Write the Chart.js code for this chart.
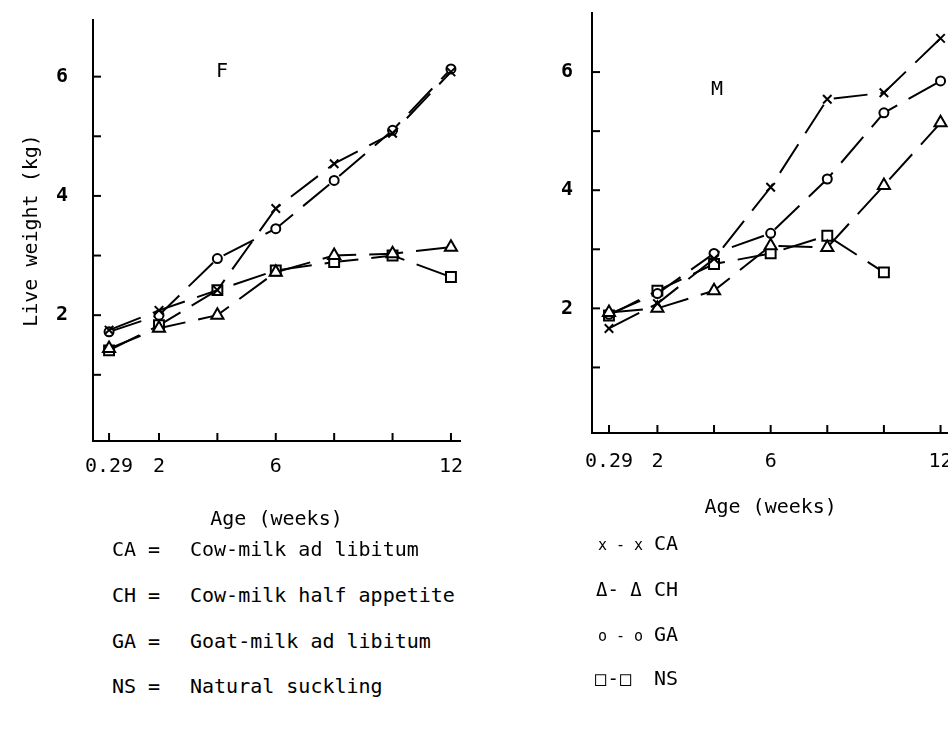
<!DOCTYPE html>
<html>
<head>
<meta charset="utf-8">
<script src="https://cdn.jsdelivr.net/npm/chart.js@4.4.1/dist/chart.umd.min.js"></script>
<style>
  body { margin: 0; width: 948px; height: 732px; overflow: hidden; background: #fff; position: relative;
         font-family: "DejaVu Sans Mono", monospace; color: #000; }
  #caixaF { position: absolute; left: 0; top: -17px; width: 480px; height: 557px; }
  #caixaM { position: absolute; left: 480px; top: -18px; width: 490px; height: 558px; }
  .txt { position: absolute; font-size: 20px; line-height: 24px; white-space: pre; }
  .simb { position: absolute; line-height: 24px; white-space: pre; }
</style>
</head>
<body>
<div id="caixaF"><canvas id="graficoF" width="480" height="557"></canvas></div>
<div id="caixaM"><canvas id="graficoM" width="490" height="558"></canvas></div>

<div class="txt" style="left:216px; top:58px;">F</div>
<div class="txt" style="left:711px; top:76px;">M</div>

<div class="txt" style="left:112px; top:537px;">CA =</div>
<div class="txt" style="left:190px; top:537px;">Cow-milk ad libitum</div>
<div class="txt" style="left:112px; top:583px;">CH =</div>
<div class="txt" style="left:190px; top:583px;">Cow-milk half appetite</div>
<div class="txt" style="left:112px; top:629px;">GA =</div>
<div class="txt" style="left:190px; top:629px;">Goat-milk ad libitum</div>
<div class="txt" style="left:112px; top:674px;">NS =</div>
<div class="txt" style="left:190px; top:674px;">Natural suckling</div>

<div class="simb" style="left:598px; top:533px; font-size:15px;">x - x</div>
<div class="txt" style="left:654px; top:531px;">CA</div>
<div class="simb" style="left:596px; top:577px; font-size:19px;">Δ- Δ</div>
<div class="txt" style="left:654px; top:577px;">CH</div>
<div class="simb" style="left:598px; top:624px; font-size:15px;">o - o</div>
<div class="txt" style="left:654px; top:622px;">GA</div>
<div class="simb" style="left:595px; top:666px; font-size:19px; letter-spacing:1px;">□-□</div>
<div class="txt" style="left:654px; top:666px;">NS</div>

<script>
// idade em semanas
const semanas = [0.29, 2, 4, 6, 8, 10, 12];
const marcasX = [0.29, 2, 4, 6, 8, 10, 12];
const rotulosX = ['0.29', '2', '6', '12'];
const marcasY = [1, 2, 3, 4, 5, 6];
const rotulosY = [2, 4, 6];

// femeas (F), peso vivo em kg
const femCA = [1.75, 2.08, 2.42, 3.79, 4.54, 5.05, 6.08];
const femCH = [1.44, 1.78, 2.00, 2.72, 3.00, 3.03, 3.14];
const femGA = [1.72, 2.00, 2.95, 3.45, 4.26, 5.10, 6.13];
const femNS = [1.41, 1.83, 2.42, 2.75, 2.89, 3.00, 2.64];

// machos (M)
const macCA = [1.66, 2.08, 2.84, 4.05, 5.54, 5.65, 6.57];
const macCH = [1.93, 2.00, 2.30, 3.06, 3.03, 4.08, 5.14];
const macGA = [1.90, 2.25, 2.93, 3.27, 4.19, 5.31, 5.85];
const macNS = [1.88, 2.30, 2.75, 2.93, 3.23, 2.61, null];

const fonte = '"DejaVu Sans Mono", monospace';

// marcas de escala voltadas para dentro, como no original
const marcasInternas = {
    id: 'marcasInternas',
    afterDraw(chart) {
        const { ctx, chartArea, scales } = chart;
        ctx.save();
        ctx.strokeStyle = '#000';
        ctx.lineWidth = 2;
        scales.x.ticks.forEach(t => {
            const px = scales.x.getPixelForValue(t.value);
            ctx.beginPath();
            ctx.moveTo(px, chartArea.bottom);
            ctx.lineTo(px, chartArea.bottom - 8);
            ctx.stroke();
        });
        scales.y.ticks.forEach(t => {
            const py = scales.y.getPixelForValue(t.value);
            ctx.beginPath();
            ctx.moveTo(chartArea.left, py);
            ctx.lineTo(chartArea.left + 8, py);
            ctx.stroke();
        });
        ctx.restore();
    }
};

function serie(rotulo, valores, estilo, raio) {
    return {
        label: rotulo,
        data: semanas.map((s, i) => ({ x: s, y: valores[i] })),
        borderColor: '#000',
        backgroundColor: '#fff',
        borderWidth: 2,
        borderDash: [34, 13],
        pointStyle: estilo,
        pointRadius: raio,
        pointBorderWidth: 2,
        spanGaps: false
    };
}

function montarGrafico(id, dados, cfg) {
    const contexto = document.getElementById(id);
    return new Chart(contexto, {
        type: 'line',
        data: {
            datasets: [
                serie('CA', dados.ca, 'crossRot', 6),
                serie('CH', dados.ch, 'triangle', 7),
                serie('GA', dados.ga, 'circle', 4.5),
                serie('NS', dados.ns, 'rect', 7)
            ]
        },
        plugins: [marcasInternas],
        options: {
            responsive: false,
            animation: false,
            layout: { padding: { left: 0, right: cfg.direita, top: cfg.topo, bottom: 0 } },
            plugins: { legend: { display: false }, tooltip: { enabled: false } },
            scales: {
                x: {
                    type: 'linear',
                    min: cfg.xMin,
                    max: cfg.xMax,
                    grid: { display: false, drawTicks: false },
                    border: { display: true, color: '#000', width: 2 },
                    afterBuildTicks: escala => { escala.ticks = marcasX.map(v => ({ value: v })); },
                    afterFit: escala => { escala.height = cfg.alturaX; },
                    ticks: {
                        color: '#000',
                        padding: cfg.padX,
                        maxRotation: 0,
                        font: { family: fonte, size: 20 },
                        callback: v => rotulosX.includes(String(v)) ? String(v) : ''
                    },
                    title: {
                        display: true,
                        text: 'Age (weeks)',
                        color: '#000',
                        font: { family: fonte, size: 20 },
                        padding: { top: 0, bottom: cfg.padTituloX }
                    }
                },
                y: {
                    type: 'linear',
                    min: cfg.yMin,
                    max: cfg.yMax,
                    grid: { display: false, drawTicks: false },
                    border: { display: true, color: '#000', width: 2 },
                    afterBuildTicks: escala => { escala.ticks = marcasY.map(v => ({ value: v })); },
                    afterFit: escala => { escala.width = cfg.larguraY; },
                    ticks: {
                        color: '#000',
                        padding: cfg.padY,
                        font: { family: fonte, size: 20, weight: 'bold' },
                        callback: v => rotulosY.includes(v) ? String(v) : ''
                    },
                    title: {
                        display: cfg.tituloY,
                        text: 'Live weight (kg)',
                        color: '#000',
                        font: { family: fonte, size: 20 },
                        padding: { top: 20, bottom: 0 }
                    }
                }
            }
        }
    });
}

window.onload = () => {
    montarGrafico('graficoF', { ca: femCA, ch: femCH, ga: femGA, ns: femNS }, {
        xMin: -0.26, xMax: 12.31, yMin: -0.11, yMax: 6.95,
        larguraY: 93, alturaX: 99, direita: 20, topo: 20,
        padX: 14, padTituloX: 8, padY: 25, tituloY: true
    });
    montarGrafico('graficoM', { ca: macCA, ch: macCH, ga: macGA, ns: macNS }, {
        xMin: -0.31, xMax: 12.31, yMin: -0.11, yMax: 7.0,
        larguraY: 112, alturaX: 107, direita: 17, topo: 12,
        padX: 17, padTituloX: 20, padY: 19, tituloY: false
    });
};
</script>
</body>
</html>
